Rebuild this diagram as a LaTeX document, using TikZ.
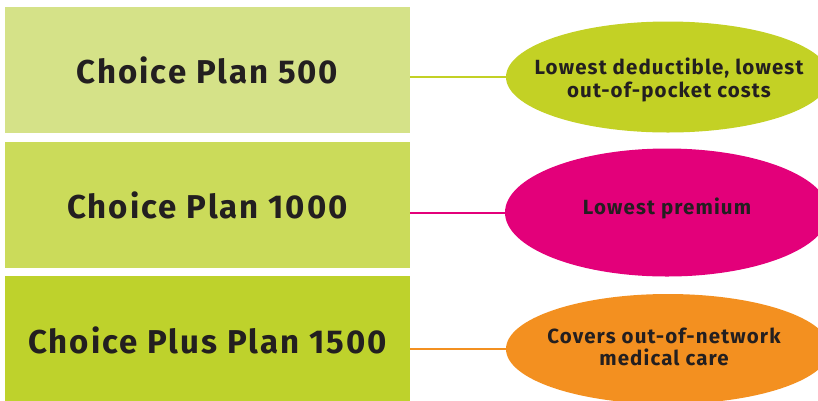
\documentclass[tikz,border=0pt]{standalone}
\usepackage{fontspec}
\setmainfont{Fira Sans}
\newfontfamily\planfont[LetterSpace=6]{Fira Sans}
\newfontfamily\bubblefont[LetterSpace=5.5]{Fira Sans}
\usetikzlibrary{shapes.geometric}
\definecolor{boxA}{RGB}{213,226,136}
\definecolor{boxB}{RGB}{203,219,90}
\definecolor{boxC}{RGB}{190,210,44}
\definecolor{ellA}{RGB}{195,209,37}
\definecolor{ellB}{RGB}{227,0,122}
\definecolor{ellC}{RGB}{243,144,32}
\definecolor{ink}{RGB}{35,31,32}
\tikzset{
  x=1pt,y=1pt,
  planbox/.style={draw=none,rectangle,minimum width=405pt,inner sep=0pt,text=ink,
    font=\planfont\fontsize{33}{36}\selectfont\bfseries},
  bubble/.style={draw=none,ellipse,minimum width=324pt,inner sep=0pt},
  bubbletext/.style={inner sep=0pt,text=ink,align=center,
    font=\bubblefont\fontsize{20.5}{22.5}\selectfont\bfseries},
  link/.style={line width=2pt}
}
\begin{document}
\begin{tikzpicture}
\useasboundingbox (0,0) rectangle (818,-400);
\clip (0,0) rectangle (818,-400);
\node[planbox,fill=boxA,minimum height=126pt] (p1) at (207.5,-70) {Choice Plan 500};
\node[planbox,fill=boxB,minimum height=126pt] (p2) at (207.5,-205) {Choice Plan 1000};
\node[planbox,fill=boxC,minimum height=128pt] (p3) at (207.5,-340) {Choice Plus Plan 1500};
\node[bubble,fill=ellA,minimum height=111pt] (e1) at (668,-77) {};
\node[bubble,fill=ellB,minimum height=128pt] (e2) at (667,-212.5) {};
\node[bubble,fill=ellC,minimum height=110pt] (e3) at (668,-349) {};
\node[bubbletext] (t1) at (669,-80) {Lowest deductible, lowest\\out-of-pocket costs};
\node[bubbletext] (t2) at (667,-208) {Lowest premium};
\node[bubbletext] (t3) at (664,-347) {Covers out-of-network\\medical care};
\draw[link,ellA] (p1.east |- e1.west) -- (e1.west);
\draw[link,ellB] (p2.east |- e2.west) -- (e2.west);
\draw[link,ellC] (p3.east |- e3.west) -- (e3.west);
\end{tikzpicture}
\end{document}
